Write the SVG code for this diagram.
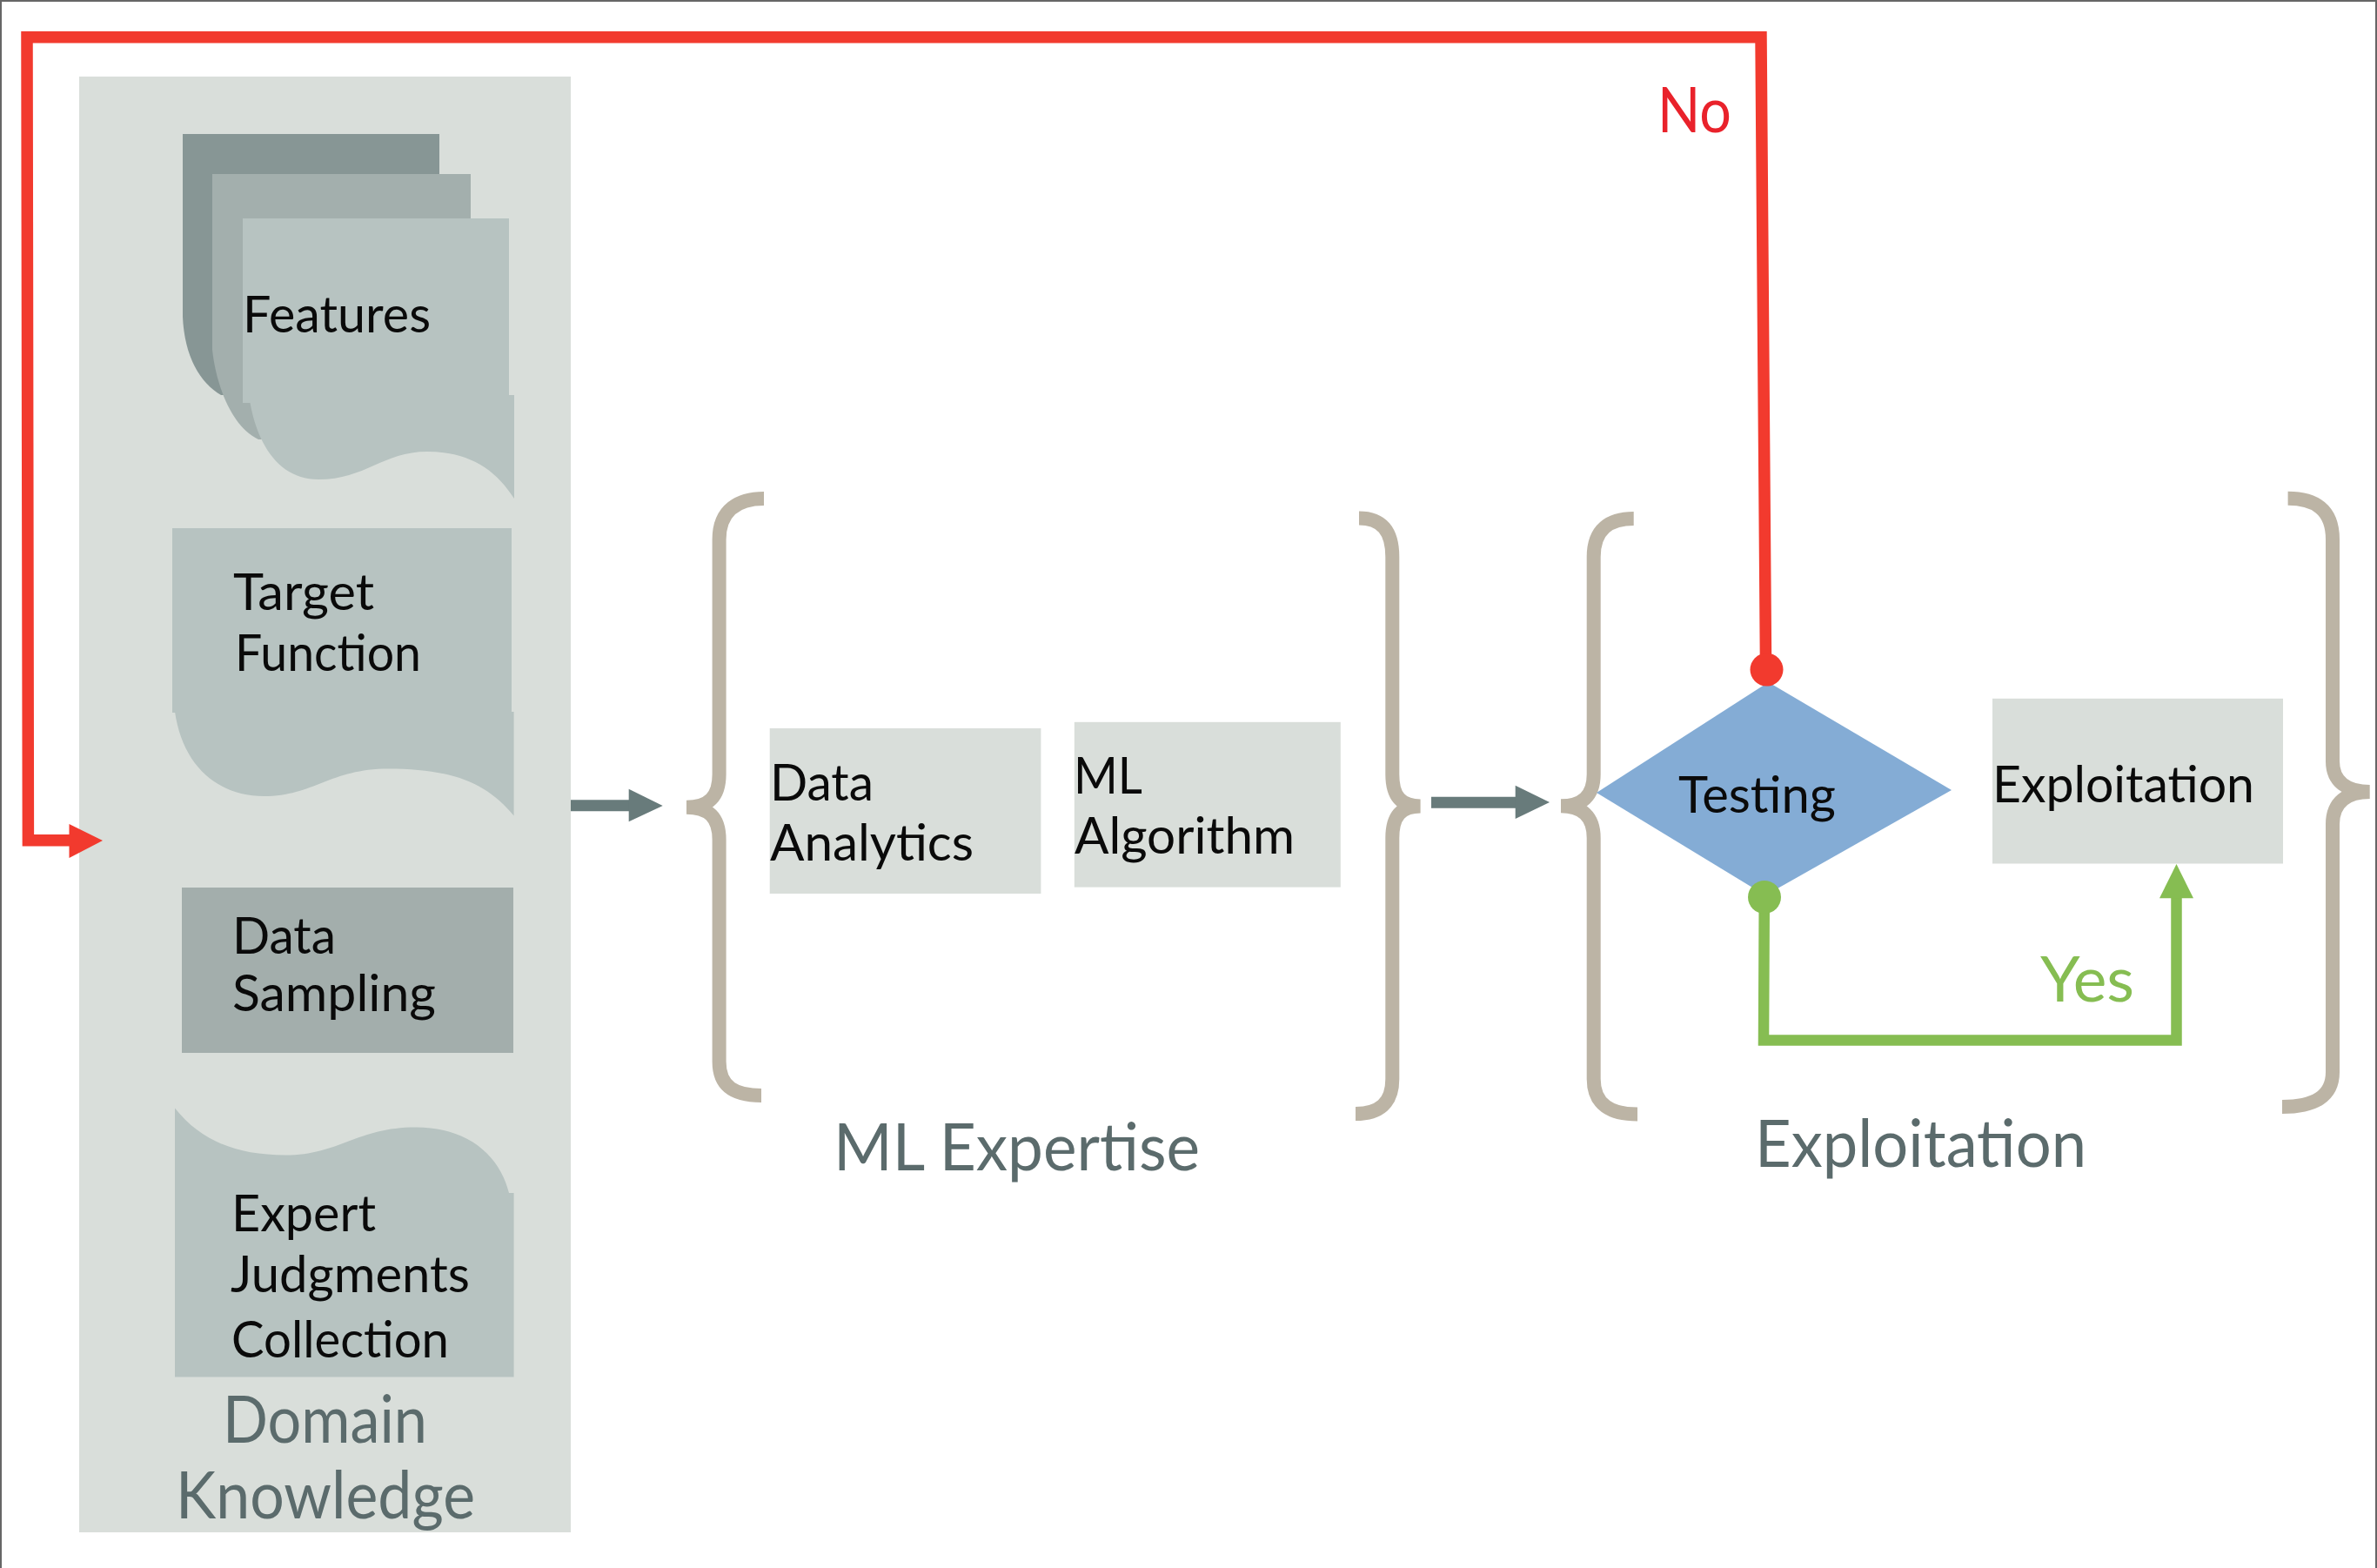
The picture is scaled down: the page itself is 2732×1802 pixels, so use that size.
<svg xmlns="http://www.w3.org/2000/svg" width="2732" height="1802" viewBox="0 0 2732 1802">
  <defs>
    <style>
      .t{font-family:Lato,"Open Sans","Liberation Sans",sans-serif;font-size:58px;fill:#0a0a0a}
      .g{font-family:Lato,"Open Sans","Liberation Sans",sans-serif;font-size:76px;fill:#5B6B6C}
      .brace{fill:none;stroke:#BCB4A5;stroke-width:16;stroke-linecap:butt}
      .pale{fill:#D9DEDA}
      .doc{fill:#B7C3C1}
      .no{stroke:#F23A2E;stroke-width:13.5;fill:none;stroke-linejoin:miter}
      .yes{stroke:#86BD52;stroke-width:12.5;fill:none;stroke-linejoin:miter}
      .flow{stroke:#687B7B;stroke-width:13;fill:none}
    </style>
  </defs>

  <rect x="0" y="0" width="2732" height="1802" fill="#ffffff"/>
  <!-- frame edges -->
  <path d="M1 1802 V1 H2731 V1802" fill="none" stroke="#666666" stroke-width="2"/>

  <!-- Domain knowledge column -->
  <g id="domain-knowledge">
    <rect class="pale" x="91" y="88" width="565" height="1673"/>
    <text class="g" x="256" y="1658" font-size="73" textLength="235" lengthAdjust="spacingAndGlyphs">Domain</text>
    <text class="g" x="202" y="1745" font-size="72" textLength="344" lengthAdjust="spacingAndGlyphs">Knowledge</text>
  </g>

  <g id="features">
    <path fill="#879695" d="M210 154 H505 V454 H254 C230 440 212 410 210 364 Z"/>
    <path fill="#A3AFAD" d="M244 200 H541 V505 H297 C265 490 248 440 244 402 Z"/>
    <rect class="doc" x="279" y="251" width="306" height="212"/>
    <path class="doc" d="M286 454 H591 V573 C570 540 540 519 491 519 C440 519 420 551 366 551 C320 551 294 510 286 454 Z"/>
    <text class="t" x="279" y="382" textLength="216" lengthAdjust="spacingAndGlyphs">Features</text>
  </g>

  <g id="target-function">
    <rect class="doc" x="198" y="607" width="390" height="212"/>
    <path class="doc" d="M201 818 H590.6 V937.6 C560 900 520 883.5 446 883.5 C380 883.5 360 915 303.5 915 C250 915 210 880 201 818 Z"/>
    <text class="t" x="268" y="701" textLength="162" lengthAdjust="spacingAndGlyphs">Target</text>
    <text class="t" x="270" y="771" textLength="214" lengthAdjust="spacingAndGlyphs">Function</text>
  </g>

  <g id="data-sampling">
    <rect fill="#A3AEAC" x="209" y="1020" width="381" height="190"/>
    <text class="t" x="267" y="1096" font-size="54" textLength="119" lengthAdjust="spacingAndGlyphs">Data</text>
    <text class="t" x="267" y="1162" font-size="54" textLength="234" lengthAdjust="spacingAndGlyphs">Sampling</text>
  </g>

  <g id="expert-judgments">
    <path class="doc" d="M201 1273.5 C230 1310 270 1327.5 328 1327.5 C390 1327.5 410 1295.5 478 1295.5 C540 1295.5 575 1330 585 1371 H590.6 V1582.4 H201 Z"/>
    <text class="t" x="266" y="1415" textLength="166" lengthAdjust="spacingAndGlyphs">Expert</text>
    <text class="t" x="265" y="1485" textLength="275" lengthAdjust="spacingAndGlyphs">Judgments</text>
    <text class="t" x="266" y="1560" textLength="250" lengthAdjust="spacingAndGlyphs">Collection</text>
  </g>

  <!-- ML expertise stage -->
  <g id="ml-expertise">
    <path class="brace" d="M878 573 C850 573 826.6 585 826.6 620 L826.6 890 C826.6 915 815 927.7 789 927.7 M789 927.7 C815 927.7 826.6 940 826.6 965 L826.6 1220 C826.6 1250 846 1259 875 1259"/>
    <path class="brace" d="M1562 595.4 C1588 595.4 1600.3 610 1600.3 640 L1600.3 890 C1600.3 915 1610 926.5 1632.6 926.5 M1632.6 926.5 C1610 926.5 1600.3 938 1600.3 963 L1600.3 1240 C1600.3 1268 1585 1280 1558 1280"/>
    <text class="g" x="958" y="1345" font-size="77" textLength="421" lengthAdjust="spacingAndGlyphs">ML Expertise</text>
  </g>

  <g id="data-analytics">
    <rect class="pale" x="884.7" y="837" width="311.7" height="190"/>
    <text class="t" x="885" y="920" textLength="119" lengthAdjust="spacingAndGlyphs">Data</text>
    <text class="t" x="885" y="989" textLength="234" lengthAdjust="spacingAndGlyphs">Analytics</text>
  </g>

  <g id="ml-algorithm">
    <rect class="pale" x="1234.8" y="829.8" width="306" height="189.8"/>
    <text class="t" x="1234" y="912" textLength="79" lengthAdjust="spacingAndGlyphs">ML</text>
    <text class="t" x="1235" y="981" textLength="253" lengthAdjust="spacingAndGlyphs">Algorithm</text>
  </g>

  <!-- Exploitation stage -->
  <g id="exploitation-stage">
    <path class="brace" d="M1877.7 596 C1850 596 1831.7 608 1831.7 640 L1831.7 890 C1831.7 915 1818 926.3 1794 926.3 M1794 926.3 C1818 926.3 1831.7 938 1831.7 963 L1831.7 1240 C1831.7 1270 1852 1280.5 1882 1280.5"/>
    <path class="brace" d="M2629.6 572.8 C2660 572.8 2681 585 2681 620 L2681 875 C2681 898 2697 910 2723.7 910 M2723.7 910 C2697 910 2681 922 2681 947 L2681 1232 C2681 1260 2660 1272 2623 1272"/>
    <text class="g" x="2017" y="1341" textLength="381" lengthAdjust="spacingAndGlyphs">Exploitation</text>
  </g>

  <g id="testing">
    <polygon fill="#84ACD5" points="1835,911 2032.5,784 2243,908 2029,1029"/>
    <text class="t" x="1929" y="934" textLength="181" lengthAdjust="spacingAndGlyphs">Testing</text>
  </g>

  <g id="exploitation">
    <rect class="pale" x="2290" y="802.8" width="334" height="189.7"/>
    <text class="t" x="2290" y="922" textLength="301" lengthAdjust="spacingAndGlyphs">Exploitation</text>
  </g>

  <!-- Connectors -->
  <g id="connectors">
    <!-- domain knowledge to ML expertise -->
    <line class="flow" x1="656" y1="925.8" x2="724" y2="925.8"/>
    <polygon fill="#687B7B" points="722.7,906.7 761.7,926 722.7,944.3"/>
    <!-- ML expertise to exploitation -->
    <line class="flow" x1="1645" y1="922.3" x2="1743" y2="922.3"/>
    <polygon fill="#687B7B" points="1741.7,902.7 1781,922 1741.7,941"/>

    <!-- "No" loop back to domain knowledge -->
    <path class="no" d="M2029.5 760 L2024 42.7 L31 42.7 L32.4 965.7 L81 965.7"/>
    <polygon fill="#F23A2E" points="79.5,947 118,966 79.5,986"/>
    <circle cx="2030.5" cy="769.6" r="19" fill="#F23A2E"/>
    <text x="1905" y="152" font-family="Lato,'Open Sans','Liberation Sans',sans-serif" font-size="72" fill="#E9222B" textLength="85" lengthAdjust="spacingAndGlyphs">No</text>

    <!-- "Yes" path to exploitation -->
    <path class="yes" d="M2027.8 1031 L2027 1195.6 L2501.5 1195.6 L2501.5 1030"/>
    <polygon fill="#86BD52" points="2482,1032.3 2501.5,993 2521,1032.3"/>
    <circle cx="2028" cy="1031" r="19" fill="#86BD52"/>
    <text x="2345" y="1151" font-family="Lato,'Open Sans','Liberation Sans',sans-serif" font-size="71" fill="#86BD52" textLength="108" lengthAdjust="spacingAndGlyphs">Yes</text>
  </g>
</svg>
